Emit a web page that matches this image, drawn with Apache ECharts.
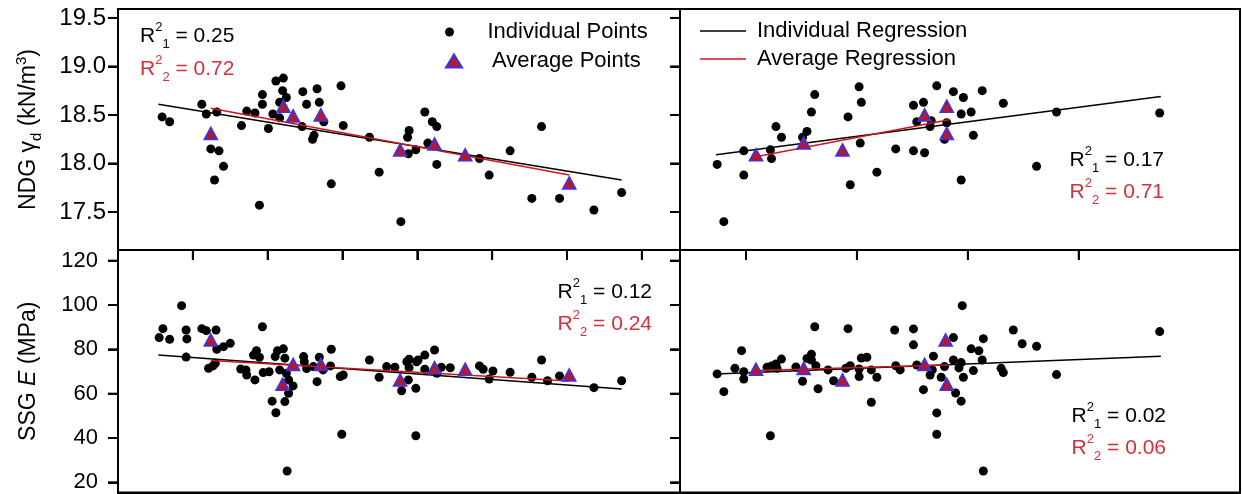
<!DOCTYPE html>
<html>
<head>
<meta charset="utf-8">
<script src="https://cdn.jsdelivr.net/npm/echarts@6.0.0/dist/echarts.min.js"></script>
<style>
    html, body { margin: 0; padding: 0; background: #fff; overflow: hidden; }
    #wrap { position: relative; width: 1243px; height: 494px; }
    #frame, #ticks, #main { position: absolute; left: 0; top: 0; width: 1243px; height: 494px; }
</style>
</head>
<body>
<div id="wrap">
    <div id="frame"></div>
    <div id="ticks"></div>
    <div id="main"></div>
</div>
<script>
// ---- top left: NDG unit weight, left x variable ----
const tlIndX = [0.59, 0.69, 1.12, 1.18, 1.32, 1.24, 1.35, 1.41, 1.29, 1.65, 1.72, 1.83, 1.93, 1.93, 1.89, 2.01, 2.07, 2.11, 2.21, 2.20,
    2.16, 2.16, 2.25, 2.47, 2.52, 2.46, 2.66, 2.69, 2.75, 2.62, 2.60, 2.85, 2.98, 3.01, 3.36, 3.49, 3.78, 3.87, 3.89, 3.88,
    3.98, 4.10, 4.20, 4.26, 4.14, 4.26, 4.83, 4.96, 5.24, 5.66, 5.53, 5.90, 6.36, 6.73];
const tlIndY = [18.48, 18.43, 18.61, 18.51, 18.53, 18.15, 18.13, 17.97, 17.83, 18.39, 18.54, 18.52, 18.71, 18.61, 17.57, 18.36, 18.51, 18.85, 18.88, 18.75,
    18.63, 18.47, 18.68, 18.74, 18.61, 18.38, 18.77, 18.63, 18.43, 18.29, 18.25, 17.79, 18.80, 18.39, 18.27, 17.91, 17.40, 18.27, 18.34, 18.10,
    18.14, 18.53, 18.43, 18.38, 18.21, 17.99, 18.05, 17.88, 18.13, 18.38, 17.64, 17.64, 17.52, 17.70];
const tlAvgX = [1.24, 2.21, 2.34, 2.71, 3.77, 4.23, 4.64, 6.03];
const tlAvgY = [18.31, 18.59, 18.49, 18.50, 18.14, 18.20, 18.09, 17.80];
const tlFitX = [0.54, 6.73];
const tlFitY = [18.61, 17.83];
const tlAvgFitX = [1.24, 6.03];
const tlAvgFitY = [18.57, 17.88];

// ---- top right: NDG unit weight, right x variable ----
const trIndX = [0.74, 0.80, 0.98, 0.98, 1.22, 1.23, 1.27, 1.32, 1.51, 1.55, 1.59, 1.62, 1.92, 1.94, 2.02, 2.04, 2.03, 2.18, 2.35, 2.51,
    2.60, 2.54, 2.51, 2.61, 2.67, 2.66, 2.72, 2.79, 2.81, 2.87, 2.94, 2.96, 2.94, 3.03, 3.05, 3.13, 3.32, 3.62, 3.80, 4.73];
const trIndY = [17.99, 17.40, 18.13, 17.88, 18.14, 18.05, 18.38, 18.27, 18.27, 18.33, 18.53, 18.71, 18.48, 17.78, 18.79, 18.63, 18.21, 17.91, 18.15, 18.60,
    18.63, 18.43, 18.13, 18.11, 18.44, 18.38, 18.80, 18.25, 18.42, 18.74, 18.51, 18.68, 17.83, 18.53, 18.29, 18.75, 18.62, 17.97, 18.53, 18.52];
const trAvgX = [1.09, 1.52, 1.87, 2.61, 2.81, 2.81];
const trAvgY = [18.09, 18.21, 18.14, 18.50, 18.59, 18.31];
const trFitX = [0.73, 4.74];
const trFitY = [18.09, 18.69];
const trAvgFitX = [1.09, 2.83];
const trAvgFitY = [18.07, 18.45];

// ---- bottom left: SSG modulus, left x variable ----
const blIndX = [0.55, 0.60, 0.69, 0.85, 0.91, 0.92, 0.91, 1.12, 1.18, 1.31, 1.32, 1.21, 1.27, 1.30, 1.41, 1.50, 1.64, 1.71, 1.72, 1.83,
    1.81, 1.85, 1.89, 1.93, 1.94, 2.02, 2.06, 2.11, 2.10, 2.13, 2.21, 2.16, 2.23, 2.23, 2.28, 2.34, 2.26, 2.25, 2.28, 2.48,
    2.49, 2.52, 2.61, 2.66, 2.69, 2.74, 2.85, 2.84, 2.97, 3.01, 2.99, 3.36, 3.49, 3.59, 3.70, 3.79, 3.86, 3.89, 3.88, 3.98,
    3.98, 3.99, 3.89, 4.01, 4.10, 4.23, 4.10, 4.26, 4.32, 4.44, 4.83, 4.88, 5.01, 4.96, 5.24, 5.53, 5.66, 5.74, 5.90, 6.36, 6.73];
const blIndY = [85.3, 89.3, 84.5, 99.7, 88.7, 84.7, 76.5, 89.3, 88.4, 88.7, 80.0, 71.4, 72.5, 73.7, 81.2, 82.7, 71.1, 70.7, 68.4, 66.2,
    77.4, 79.4, 76.4, 90.2, 69.5, 69.9, 56.6, 51.4, 76.7, 79.3, 80.2, 70.7, 76.0, 56.4, 60.2, 63.5, 25.1, 69.2, 66.2, 76.7,
    74.4, 71.3, 72.2, 65.4, 76.4, 70.7, 80.0, 72.5, 67.7, 68.4, 41.7, 75.2, 67.4, 72.2, 71.9, 61.3, 74.4, 75.5, 66.2, 62.4,
    41.0, 74.4, 71.7, 75.2, 77.4, 79.7, 71.0, 69.2, 71.9, 71.7, 72.5, 71.0, 70.2, 66.6, 69.6, 67.4, 75.2, 65.8, 68.0, 62.7, 65.8];
const blAvgX = [1.24, 2.20, 2.34, 2.71, 3.77, 4.23, 4.64, 6.03];
const blAvgY = [84.2, 64.2, 73.2, 73.2, 66.2, 71.7, 71.0, 68.4];
const blFitX = [0.54, 6.73];
const blFitY = [77.4, 62.1];
const blAvgFitX = [1.24, 6.03];
const blAvgFitY = [74.9, 65.7];

// ---- bottom right: SSG modulus, right x variable ----
const brIndX = [0.74, 0.80, 0.90, 0.96, 0.98, 0.98, 1.19, 1.23, 1.27, 1.28, 1.32, 1.22, 1.45, 1.51, 1.55, 1.59, 1.59, 1.62, 1.63, 1.65,
    1.74, 1.79, 1.90, 1.92, 1.94, 2.02, 2.02, 2.04, 2.09, 2.13, 2.18, 2.13, 2.34, 2.35, 2.39, 2.51, 2.51, 2.54, 2.60, 2.66,
    2.68, 2.69, 2.72, 2.72, 2.76, 2.79, 2.87, 2.87, 2.89, 2.92, 2.94, 2.95, 2.94, 2.96, 3.03, 3.05, 3.10, 3.13, 3.14, 3.14,
    3.30, 3.32, 3.41, 3.49, 3.62, 3.80, 4.73];
const brIndY = [68.9, 60.9, 71.4, 79.4, 69.9, 66.6, 71.9, 72.5, 73.4, 71.4, 75.6, 41.0, 72.0, 65.6, 75.9, 77.8, 75.2, 90.2, 72.6, 62.2,
    70.7, 65.8, 71.4, 89.3, 72.6, 67.7, 71.1, 76.1, 76.4, 70.7, 67.4, 56.1, 88.7, 72.6, 70.7, 89.2, 82.0, 72.9, 61.8, 68.4,
    70.7, 76.9, 51.3, 41.7, 67.4, 72.2, 85.3, 75.2, 60.3, 71.6, 74.0, 99.7, 56.6, 67.4, 80.2, 70.4, 79.3, 75.2, 84.8, 25.1,
    71.4, 69.5, 88.7, 82.5, 81.4, 68.6, 88.0];
const brAvgX = [1.09, 1.52, 1.87, 2.61, 2.80, 2.81];
const brAvgY = [71.0, 71.4, 66.2, 73.2, 84.2, 64.2];
const brFitX = [0.73, 4.74];
const brFitY = [68.9, 76.9];
const brAvgFitX = [1.09, 2.83];
const brAvgFitY = [70.4, 72.9];

// ticks
const leftXTicks = [1, 2, 3, 4, 5, 6, 7];
const rightXTicks = [1, 2, 3, 4];
const ndgTicks = [17.5, 18.0, 18.5, 19.0, 19.5];
const ssgTicks = [20, 40, 60, 80, 100, 120];

const r2Labels = [
    ['0.25', '0.72'],
    ['0.17', '0.71'],
    ['0.12', '0.24'],
    ['0.02', '0.06']
];

const FONT = "'Liberation Sans', Arial, sans-serif";
const RED_TEXT = '#d42f3c';
const RED_LINE = '#d0161e';

const xRanges = [[0, 7.51], [0.405, 5.454], [0, 7.51], [0.405, 5.454]];
const yRanges = [[17.108, 19.592], [17.108, 19.592], [15.4, 124.8], [15.4, 124.8]];

function zip(xs, ys) {
    return xs.map((x, i) => [x, ys[i]]);
}

function grids(show) {
    return [
        {left: 118, top: 9, width: 562, height: 241, show: show, borderColor: '#000', borderWidth: 2},
        {left: 680, top: 9, width: 560, height: 241, show: show, borderColor: '#000', borderWidth: 2},
        {left: 118, top: 250, width: 562, height: 242.5, show: show, borderColor: '#000', borderWidth: 2},
        {left: 680, top: 250, width: 560, height: 242.5, show: show, borderColor: '#000', borderWidth: 2}
    ];
}

// axes carrying frame, ticks, labels and names
function xAx(i, ticks) {
    return {
        type: 'value', gridIndex: i, min: xRanges[i][0], max: xRanges[i][1],
        axisLine: {show: true, lineStyle: {color: '#000', width: 2}},
        splitLine: {show: false},
        axisLabel: {show: false},
        axisTick: ticks ? {
            show: true, inside: false, length: 10, customValues: ticks,
            lineStyle: {color: '#000', width: 2}
        } : {show: false}
    };
}

function yAx(i, ticks, showLabel, digits, fontSize, margin, name) {
    let ax = {
        type: 'value', gridIndex: i, min: yRanges[i][0], max: yRanges[i][1],
        axisLine: {show: true, lineStyle: {color: '#000', width: 2}},
        splitLine: {show: false},
        axisTick: {
            show: true, inside: false, length: 10, customValues: ticks,
            lineStyle: {color: '#000', width: 2}
        },
        axisLabel: {
            show: showLabel, customValues: ticks, margin: margin,
            fontSize: fontSize, color: '#000', fontFamily: FONT,
            formatter: v => v.toFixed(digits)
        }
    };
    if (name) {
        ax.name = name;
        ax.nameLocation = 'middle';
        ax.nameRotate = 90;
        ax.nameGap = 74;
        ax.nameTextStyle = {
            fontFamily: FONT, color: '#000',
            rich: {
                a: {fontSize: 23, lineHeight: 30, fontFamily: FONT, color: '#000'},
                i: {fontSize: 23, lineHeight: 30, fontStyle: 'italic', fontFamily: FONT, color: '#000'},
                s: {fontSize: 15, lineHeight: 17, verticalAlign: 'bottom', fontFamily: FONT, color: '#000'},
                p: {fontSize: 15, lineHeight: 20, verticalAlign: 'top', fontFamily: FONT, color: '#000'}
            }
        };
    }
    return ax;
}

// same scales, nothing drawn
function plainAx(i, ranges) {
    return {
        type: 'value', gridIndex: i, min: ranges[i][0], max: ranges[i][1],
        axisLine: {show: false}, axisTick: {show: false},
        axisLabel: {show: false}, splitLine: {show: false}
    };
}

// outward tick marks placed through the axes' own scales
function tickSeries(i, ticks, dir) {
    let data = dir === 'y'
        ? ticks.map(v => [xRanges[i][0], v])
        : ticks.map(v => [v, yRanges[i][0]]);
    return {
        type: 'custom', xAxisIndex: i, yAxisIndex: i, clip: false, silent: true,
        data: data,
        renderItem: function (params, api) {
            let p = api.coord([api.value(0), api.value(1)]);
            let shape = dir === 'y'
                ? {x1: p[0] - 10, y1: p[1], x2: p[0], y2: p[1]}
                : {x1: p[0], y1: p[1], x2: p[0], y2: p[1] + 10};
            return {type: 'line', shape: shape, style: {stroke: '#000', lineWidth: 2}};
        }
    };
}

function panel(i, indX, indY, avgX, avgY, fitX, fitY, aFitX, aFitY) {
    return [
        {
            name: 'Individual Points', type: 'scatter', xAxisIndex: i, yAxisIndex: i,
            data: zip(indX, indY), symbol: 'circle', symbolSize: 9,
            itemStyle: {color: '#000', opacity: 1}, z: 2
        },
        {
            name: 'Individual Regression', type: 'line', xAxisIndex: i, yAxisIndex: i,
            data: zip(fitX, fitY), symbol: 'none', color: '#000',
            lineStyle: {color: '#000', width: 1.5}, z: 3
        },
        {
            name: 'Average Regression', type: 'line', xAxisIndex: i, yAxisIndex: i,
            data: zip(aFitX, aFitY), symbol: 'none', color: RED_LINE,
            lineStyle: {color: RED_LINE, width: 1.5}, z: 4
        },
        {
            name: 'Average Points', type: 'scatter', xAxisIndex: i, yAxisIndex: i,
            data: zip(avgX, avgY), symbol: 'triangle', symbolSize: [13, 12],
            itemStyle: {color: '#b3182b', borderColor: '#3a32f0', borderWidth: 1.6, opacity: 1}, z: 5
        }
    ];
}

function r2(x, y, align, idx, val, color) {
    let st = {fill: color, fontFamily: FONT};
    return {
        type: 'text', x: x, y: y, z: 10,
        style: {
            text: '{b|R}{p|2}{s|' + idx + '}{b| = ' + val + '}',
            align: align, verticalAlign: 'middle', fill: color,
            rich: {
                b: Object.assign({fontSize: 21, lineHeight: 30}, st),
                p: Object.assign({fontSize: 13, lineHeight: 19, verticalAlign: 'top'}, st),
                s: Object.assign({fontSize: 13, lineHeight: 15, verticalAlign: 'bottom'}, st)
            }
        }
    };
}

const legendText = {fontSize: 22, lineHeight: 24, color: '#000', fontFamily: FONT};

// frame layer: panel borders, tick labels, axis titles
let frameChart = echarts.init(document.getElementById('frame'));
frameChart.setOption({
    animation: false,
    backgroundColor: '#fff',
    grid: grids(true),
    xAxis: [xAx(0, leftXTicks), xAx(1, rightXTicks), xAx(2, null), xAx(3, null)],
    yAxis: [
        yAx(0, ndgTicks, true, 1, 24, 12, '{a|NDG γ}{s|d}{a| (kN/m}{p|3}{a|)}'),
        yAx(1, ndgTicks, false, 1, 24, 12, null),
        yAx(2, ssgTicks, true, 0, 22, 20, '{a|SSG }{i|E}{a| (MPa)}'),
        yAx(3, ssgTicks, false, 0, 22, 20, null)
    ]
});

// tick layer
try {
    let tickChart = echarts.init(document.getElementById('ticks'));
    tickChart.setOption({
        animation: false,
        grid: grids(false),
        xAxis: [0, 1, 2, 3].map(i => plainAx(i, xRanges)),
        yAxis: [0, 1, 2, 3].map(i => plainAx(i, yRanges)),
        series: [
            tickSeries(0, ndgTicks, 'y'),
            tickSeries(1, ndgTicks, 'y'),
            tickSeries(2, ssgTicks, 'y'),
            tickSeries(3, ssgTicks, 'y'),
            tickSeries(0, leftXTicks, 'x'),
            tickSeries(1, rightXTicks, 'x')
        ]
    });
} catch (e) {
    console.log(e);
}

// marks layer: points, regression lines, legends, R² notes
let myChart = echarts.init(document.getElementById('main'));
myChart.setOption({
    animation: false,
    grid: grids(false),
    xAxis: [0, 1, 2, 3].map(i => plainAx(i, xRanges)),
    yAxis: [0, 1, 2, 3].map(i => plainAx(i, yRanges)),
    legend: [
        {
            data: ['Individual Points'], left: 445, top: 20, padding: 0,
            itemWidth: 16, itemHeight: 9,
            textStyle: Object.assign({padding: [0, 0, 0, 25]}, legendText)
        },
        {
            data: ['Average Points'], left: 445, top: 49, padding: 0,
            itemWidth: 16, itemHeight: 13,
            textStyle: Object.assign({padding: [0, 0, 0, 25]}, legendText)
        },
        {
            data: [
                {name: 'Individual Regression', icon: 'rect'},
                {name: 'Average Regression', icon: 'rect'}
            ],
            orient: 'vertical', left: 700, top: 19, padding: 0, itemGap: 4,
            itemWidth: 46, itemHeight: 1.6, symbolKeepAspect: false,
            textStyle: Object.assign({padding: [0, 0, 0, 6]}, legendText)
        }
    ],
    graphic: [
        r2(140, 36, 'left', 1, r2Labels[0][0], '#000'),
        r2(140, 69, 'left', 2, r2Labels[0][1], RED_TEXT),
        r2(1164, 160, 'right', 1, r2Labels[1][0], '#000'),
        r2(1164, 192, 'right', 2, r2Labels[1][1], RED_TEXT),
        r2(652, 292, 'right', 1, r2Labels[2][0], '#000'),
        r2(652, 324, 'right', 2, r2Labels[2][1], RED_TEXT),
        r2(1166, 416, 'right', 1, r2Labels[3][0], '#000'),
        r2(1166, 448, 'right', 2, r2Labels[3][1], RED_TEXT)
    ],
    series: [].concat(
        panel(0, tlIndX, tlIndY, tlAvgX, tlAvgY, tlFitX, tlFitY, tlAvgFitX, tlAvgFitY),
        panel(1, trIndX, trIndY, trAvgX, trAvgY, trFitX, trFitY, trAvgFitX, trAvgFitY),
        panel(2, blIndX, blIndY, blAvgX, blAvgY, blFitX, blFitY, blAvgFitX, blAvgFitY),
        panel(3, brIndX, brIndY, brAvgX, brAvgY, brFitX, brFitY, brAvgFitX, brAvgFitY)
    )
});
</script>
</body>
</html>
